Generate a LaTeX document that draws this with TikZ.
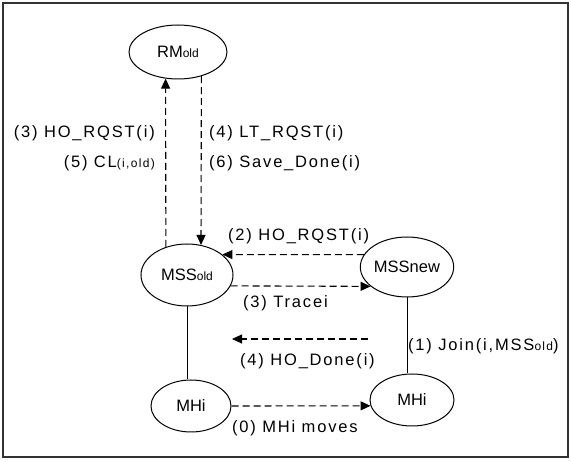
\documentclass[tikz,border=0pt]{standalone}
\usepackage{fontspec}
\setmainfont{Liberation Sans}
\newfontfamily\labfont[LetterSpace=11]{Liberation Sans}
\usetikzlibrary{shapes.geometric,arrows.meta}
\newcommand\oldsub[1]{{\fontsize{12}{14}\selectfont #1}}
\begin{document}
\begin{tikzpicture}[x=1pt,y=-1pt,
  state/.style={ellipse,draw,line width=1pt,inner sep=0pt,font=\fontsize{16.5}{19}\selectfont},
  msg/.style={draw,dash pattern=on 7pt off 4pt,line width=1.1pt,-{Triangle[length=10pt,width=9pt]}},
  lbl/.style={inner sep=0pt,font=\labfont\fontsize{16.5}{19}\selectfont},
  link/.style={line width=1pt}]
\useasboundingbox (0,0) rectangle (571,462);
\draw[line width=1.6pt,black!80] (3,3) rectangle (568,457);

\node[state,minimum width=98pt,minimum height=54pt] (RM) at (178,52) {RM\oldsub{old}};
\node[state,minimum width=92pt,minimum height=62pt] (MSSold) at (187,275) {MSS\oldsub{old}};
\node[state,minimum width=92pt,minimum height=60pt] (MSSnew) at (407,267) {MSSnew};
\node[state,minimum width=80pt,minimum height=52pt] (MHiL) at (191,406) {MHi};
\node[state,minimum width=84pt,minimum height=52pt] (MHiR) at (412,400) {MHi};

% links
\draw[link] (MSSold.south) -- (MSSold.south |- MHiL.north);
\draw[link] (MSSnew.south) -- (MSSnew.south |- MHiR.north);

% messages
\draw[msg] (MSSold.127) -- (RM.245);
\draw[msg] (RM.314) -- (MSSold.65);
\draw[msg] (MSSnew.164) -- (MSSold.30);
\draw[msg] (MSSold.-14) -- (MSSnew.208);
\coordinate (hdA) at (368,339);
\coordinate (hdB) at (232,339);
\draw[msg] (hdA) -- (hdB);
\draw[msg] (MHiL.east) -- (MHiR.188);

% labels
\node[lbl,anchor=east] (l3a) at (155,133) {(3) HO\_RQST(i)};
\node[lbl,anchor=east] (l5) at (155,163) {(5) CL\oldsub{(i,old)}};
\node[lbl,anchor=west] (l4a) at (209,133) {(4) LT\_RQST(i)};
\node[lbl,anchor=west] (l6) at (209,163) {(6) Save\_Done(i)};
\node[lbl,anchor=west] (l2) at (228,236) {(2) HO\_RQST(i)};
\node[lbl,anchor=west] (l3b) at (243,303) {(3) Tracei};
\node[lbl,anchor=west] (l4b) at (240,361) {(4) HO\_Done(i)};
\node[lbl,anchor=west] (l1) at (408,346) {(1) Join(i,MSS\oldsub{old})};
\node[lbl,anchor=west] (l0) at (232,428) {(0) MHi moves};
\end{tikzpicture}
\end{document}
